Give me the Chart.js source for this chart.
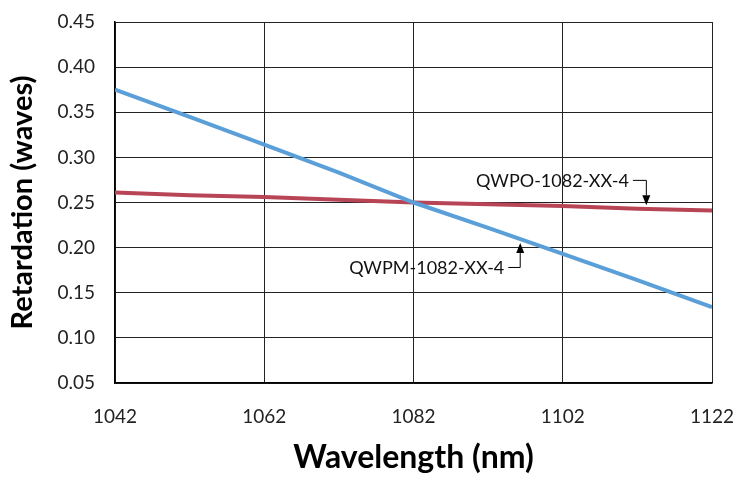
<!DOCTYPE html>
<html>
<head>
<meta charset="utf-8">
<script src="https://cdn.jsdelivr.net/npm/chart.js@4"></script>
<style>
  html, body { margin: 0; padding: 0; background: #fff; }
  #wrap { width: 738px; height: 477px; }
</style>
</head>
<body>
<div id="wrap"><canvas id="chart" width="738" height="477"></canvas></div>
<script>
// wavelength samples (nm)
const wavelengths = [1042, 1052, 1062, 1072, 1082, 1092, 1102, 1112, 1122];
// retardation in waves
const qwpmValues = [0.375, 0.345, 0.314, 0.283, 0.250, 0.222, 0.193, 0.164, 0.134];
const qwpoValues = [0.261, 0.258, 0.256, 0.253, 0.250, 0.248, 0.246, 0.243, 0.241];
const yTicks = [0.05, 0.10, 0.15, 0.20, 0.25, 0.30, 0.35, 0.40, 0.45];
const xTicks = [1042, 1062, 1082, 1102, 1122];

// callout labels: text, arrow target (x, y), text anchor (x, y)
const callouts = [
  { text: 'QWPO-1082-XX-4', target: [1113.2, 0.247], anchor: [1111.4, 0.2745], dir: 'down' },
  { text: 'QWPM-1082-XX-4', target: [1096.3, 0.205], anchor: [1094.7, 0.178], dir: 'up' }
];

const FONT = 'Lato, "Open Sans", sans-serif';

const calloutPlugin = {
  id: 'callouts',
  afterDatasetsDraw(chart) {
    const { ctx, scales: { x, y } } = chart;
    ctx.save();
    ctx.strokeStyle = '#000';
    ctx.lineWidth = 1;
    ctx.font = '18px ' + FONT;
    ctx.textBaseline = 'middle';
    ctx.textAlign = 'right';
    callouts.forEach(c => {
      const tx = x.getPixelForValue(c.target[0]);
      const ty = y.getPixelForValue(c.target[1]);
      const ax = x.getPixelForValue(c.anchor[0]);
      const ay = y.getPixelForValue(c.anchor[1]);
      ctx.fillStyle = '#111';
      ctx.fillText(c.text, ax - 4, ay + 1);
      ctx.beginPath();
      ctx.moveTo(ax, ay);
      ctx.lineTo(tx, ay);
      const headY = c.dir === 'down' ? ty - 10 : ty + 10;
      ctx.lineTo(tx, headY);
      ctx.stroke();
      ctx.fillStyle = '#000';
      ctx.beginPath();
      ctx.moveTo(tx, ty);
      ctx.lineTo(tx - 4, headY);
      ctx.lineTo(tx + 4, headY);
      ctx.closePath();
      ctx.fill();
    });
    ctx.restore();
  }
};

new Chart(document.getElementById('chart').getContext('2d'), {
  type: 'line',
  data: {
    datasets: [
      {
        label: 'QWPM-1082-XX-4',
        data: wavelengths.map((w, i) => ({ x: w, y: qwpmValues[i] })),
        borderColor: '#5b9fd8',
        borderWidth: 4,
        pointRadius: 0,
        tension: 0
      },
      {
        label: 'QWPO-1082-XX-4',
        data: wavelengths.map((w, i) => ({ x: w, y: qwpoValues[i] })),
        borderColor: '#b84556',
        borderWidth: 4,
        pointRadius: 0,
        tension: 0
      }
    ]
  },
  options: {
    responsive: false,
    animation: false,
    events: [],
    layout: { padding: { top: 22, right: 26, left: 0, bottom: 0 } },
    plugins: {
      legend: { display: false },
      tooltip: { enabled: false }
    },
    scales: {
      x: {
        type: 'linear',
        min: 1042,
        max: 1122,
        afterBuildTicks: s => { s.ticks = xTicks.map(v => ({ value: v })); },
        afterFit: s => { s.height = 94; s.paddingLeft = 0; s.paddingRight = 0; },
        grid: { color: '#222', lineWidth: 1, drawTicks: false },
        border: { color: '#000', width: 1.5 },
        ticks: {
          padding: 22,
          color: '#222',
          font: { family: FONT, size: 19 },
          callback: v => String(v)
        },
        title: {
          display: true,
          text: 'Wavelength (nm)',
          color: '#000',
          font: { family: FONT, size: 32, weight: 'bold' },
          padding: { top: 16, bottom: 0 }
        }
      },
      y: {
        min: 0.05,
        max: 0.45,
        afterBuildTicks: s => { s.ticks = yTicks.map(v => ({ value: v })); },
        afterFit: s => { s.width = 115; s.paddingTop = 0; s.paddingBottom = 0; },
        grid: { color: '#222', lineWidth: 1, drawTicks: false },
        border: { color: '#000', width: 1.5 },
        ticks: {
          padding: 20,
          color: '#222',
          font: { family: FONT, size: 19 },
          callback: v => v.toFixed(2)
        },
        title: {
          display: true,
          text: 'Retardation (waves)',
          color: '#000',
          font: { family: FONT, size: 29, weight: 'bold' },
          padding: { top: 5, bottom: 0 }
        }
      }
    }
  },
  plugins: [calloutPlugin]
});
</script>
</body>
</html>
